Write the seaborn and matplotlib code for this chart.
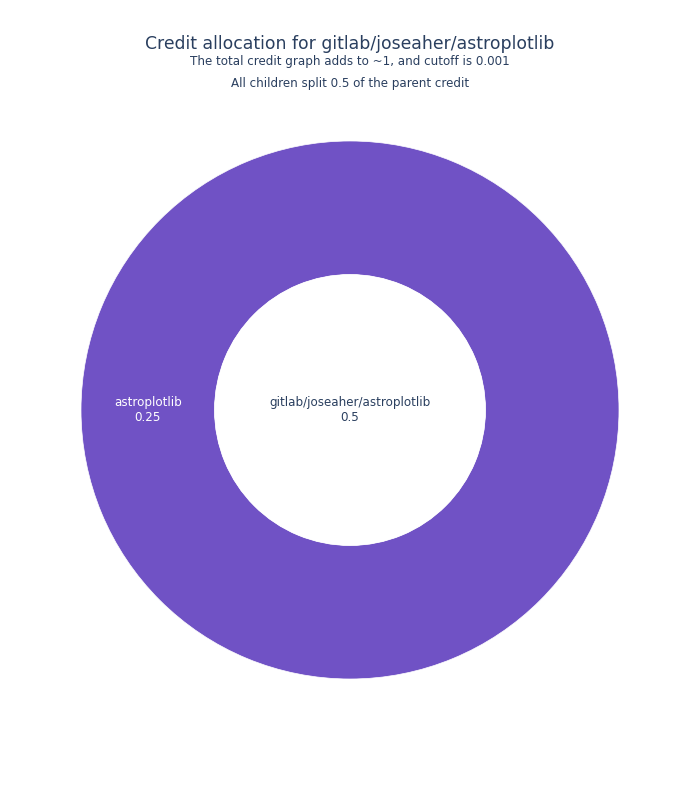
import numpy as np
import matplotlib
matplotlib.use("Agg")
import matplotlib.pyplot as plt
import seaborn as sns

# sunburst data
labels = ["gitlab/joseaher/astroplotlib", "astroplotlib"]
parents = ["", "gitlab/joseaher/astroplotlib"]
credits = [0.5, 0.25]

sns.set_theme(style="white")
plt.rcParams['font.family'] = ['DejaVu Sans']

text_col = '#2a3f5f'
ring_col = '#7052c5'

fig = plt.figure(figsize=(7, 8), dpi=100)
ax = fig.add_axes([81 / 700, 121 / 800, 538 / 700, 538 / 800])

inner = 135.5 / 269

# child ring(s)
child_vals = [c for c, p in zip(credits, parents) if p != ""]
child_labels = [l for l, p in zip(labels, parents) if p != ""]
wedges, _ = ax.pie(child_vals, radius=1, colors=[ring_col],
                   startangle=0, counterclock=True,
                   wedgeprops=dict(width=1 - inner, edgecolor='white', linewidth=0.5))

# root disk (white)
root_label = labels[parents.index("")]
root_val = credits[parents.index("")]
ax.pie([root_val], radius=inner, colors=['white'],
       wedgeprops=dict(edgecolor='white', linewidth=0))
ax.text(0, 0, f"{root_label}\n{root_val:g}", ha='center', va='center',
        fontsize=8.6, color=text_col, linespacing=1.25)

for w, lab, v in zip(wedges, child_labels, child_vals):
    mid = np.deg2rad((w.theta1 + w.theta2) / 2)
    r = (inner + 1) / 2
    ax.text(r * np.cos(mid), r * np.sin(mid), f"{lab}\n{v:g}",
            ha='center', va='center', fontsize=8.6, color='white',
            linespacing=1.25)

ax.set_xlim(-1, 1)
ax.set_ylim(-1, 1)
ax.set_aspect('equal')
ax.axis('off')

fig.text(0.5, 1 - 44 / 800, "Credit allocation for gitlab/joseaher/astroplotlib",
         ha='center', va='center', fontsize=12.45, color=text_col)
fig.text(0.5, 1 - 61 / 800, "The total credit graph adds to ~1, and cutoff is 0.001",
         ha='center', va='center', fontsize=8.6, color=text_col)
fig.text(0.5, 1 - 83 / 800, "All children split 0.5 of the parent credit",
         ha='center', va='center', fontsize=8.6, color=text_col)

fig.savefig("out.png", dpi=100, facecolor='white')
